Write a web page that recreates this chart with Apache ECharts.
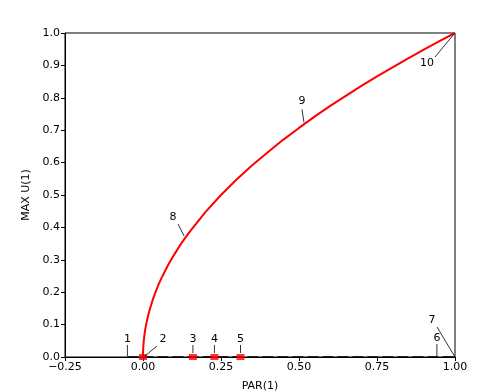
<!DOCTYPE html>
<html>
<head>
<meta charset="utf-8">
<script src="https://cdn.jsdelivr.net/npm/echarts@6/dist/echarts.min.js"></script>
<style>html,body{margin:0;padding:0;background:#fff}#c{width:488px;height:391px}</style>
</head>
<body>
<div id="c"></div>
<script>
// Branch curve
const curveX = [0, 0.0003, 0.001, 0.0025, 0.005, 0.0075, 0.01, 0.015, 0.02, 0.03, 0.04, 0.05, 0.06, 0.08, 0.1, 0.125, 0.15, 0.2, 0.25, 0.3, 0.35, 0.4, 0.45, 0.5, 0.55, 0.6, 0.65, 0.7, 0.75, 0.8, 0.85, 0.9, 0.95, 1.0];
const curveY = [0, 0.017, 0.032, 0.05, 0.071, 0.087, 0.1, 0.122, 0.141, 0.173, 0.2, 0.224, 0.245, 0.283, 0.316, 0.354, 0.387, 0.447, 0.5, 0.548, 0.592, 0.632, 0.671, 0.707, 0.742, 0.775, 0.806, 0.837, 0.866, 0.894, 0.922, 0.949, 0.975, 1.0];
// Trivial branch (dashed)
const trivX = [-0.05, 1.0];
const trivY = [0, 0];
// Special points (red squares)
const sqX = [0.0, 0.16, 0.229, 0.3125];
const sqY = [0, 0, 0, 0];
// Labelled points
const ptX = [-0.05, 0.0, 0.16, 0.229, 0.3125, 0.942, 1.0, 0.135, 0.516, 1.0];
const ptY = [0, 0, 0, 0, 0, 0, 0, 0.367, 0.718, 1.0];
const ptLabel = ['1', '2', '3', '4', '5', '6', '7', '8', '9', '10'];

// layout of label leaders (pixel offsets): [x1,y1,x2,y2,tx,ty]
const leaderLayout = [
  [0, -1, 0, -12, 0, -18],
  [2, -1, 14, -11, 20, -18],
  [0, -4, 0, -12, 0, -18],
  [0, -4, 0, -12, 0, -18],
  [0, -4, 0, -12, 0, -18],
  [0, -1, 0, -13, 0, -19],
  [0, 0, -18, -30, -23, -37],
  [-1, -2, -7, -14, -12, -21],
  [0, -2, -2, -15, -2, -23],
  [-1, 1, -20, 24, -28, 30]
];

const FONT = 'DejaVu Sans';
const chart = echarts.init(document.getElementById('c'));
chart.setOption({
  animation: false,
  backgroundColor: '#fff',
  grid: {left: 65, top: 33, width: 390, height: 324, outerBoundsMode: 'none', containLabel: false,
         show: true, borderColor: '#000', borderWidth: 1, backgroundColor: 'transparent'},
  xAxis: {
    type: 'value', min: -0.25, max: 1.0, interval: 0.25,
    name: 'PAR(1)', nameLocation: 'middle', nameGap: 24,
    nameTextStyle: {fontFamily: FONT, fontSize: 11, color: '#000'},
    axisLine: {show: true, onZero: false, lineStyle: {color: '#000', width: 1}},
    axisTick: {show: true, length: 4, lineStyle: {color: '#000'}},
    axisLabel: {fontFamily: FONT, fontSize: 11, color: '#000', margin: 5,
      formatter: v => (v < 0 ? '\u2212' : '') + Math.abs(v).toFixed(2)},
    splitLine: {show: false}
  },
  yAxis: {
    type: 'value', min: 0, max: 1.0, interval: 0.1,
    name: 'MAX U(1)', nameLocation: 'middle', nameGap: 31,
    nameTextStyle: {fontFamily: FONT, fontSize: 11, color: '#000'},
    axisLine: {show: true, onZero: false, lineStyle: {color: '#000', width: 1}},
    axisTick: {show: true, length: 4, lineStyle: {color: '#000'}},
    axisLabel: {fontFamily: FONT, fontSize: 11, color: '#000', margin: 5,
      formatter: v => v.toFixed(1)},
    splitLine: {show: false}
  },
  series: [
    {
      type: 'line', data: trivX.map((x, i) => [x, trivY[i]]),
      showSymbol: false, lineStyle: {color: '#000', width: 1.5, type: [11, 4]}, z: 2
    },
    {
      type: 'line', data: curveX.map((x, i) => [x, curveY[i]]),
      showSymbol: false, smooth: false, lineStyle: {color: '#ff0000', width: 2}, z: 3
    },
    {
      type: 'scatter', data: sqX.map((x, i) => [x, sqY[i]]),
      symbol: 'rect', symbolSize: [8, 6], itemStyle: {color: '#ff0000'}, z: 4
    },
    {
      type: 'custom', clip: false, z: 5,
      data: ptX.map((x, i) => [x, ptY[i]]),
      renderItem: function (params, api) {
        const p = api.coord([api.value(0), api.value(1)]);
        const L = leaderLayout[params.dataIndex];
        return {
          type: 'group',
          children: [
            {type: 'line', shape: {x1: p[0] + L[0], y1: p[1] + L[1], x2: p[0] + L[2], y2: p[1] + L[3]},
             style: {stroke: '#000', lineWidth: 0.8}},
            {type: 'text', x: p[0] + L[4], y: p[1] + L[5],
             style: {text: ptLabel[params.dataIndex], fill: '#000', font: '11px "DejaVu Sans"', align: 'center', verticalAlign: 'middle'}}
          ]
        };
      }
    }
  ]
});
</script>
</body>
</html>
